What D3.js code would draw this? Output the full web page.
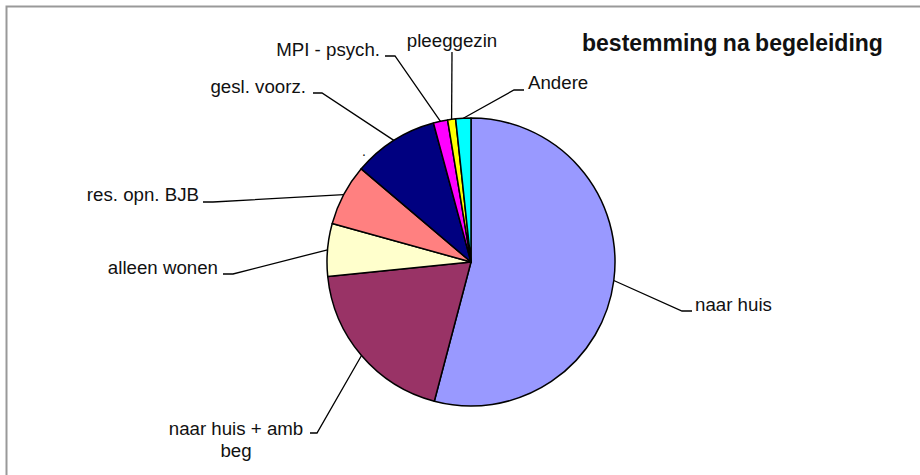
<!DOCTYPE html>
<html>
<head>
<meta charset="utf-8">
<script src="https://cdn.jsdelivr.net/npm/d3@7"></script>
<style>
  body { margin: 0; background: #fff; }
  svg text { font-family: "Liberation Sans", Arial, sans-serif; }
</style>
</head>
<body>
<div id="chart_area"></div>
<script>
// data (share of cases, %)
var categories = ["naar huis", "naar huis + amb beg", "alleen wonen", "res. opn. BJB",
                  "gesl. voorz.", "MPI - psych.", "pleeggezin", "Andere"];
var values = [54.1, 19.3, 5.9, 6.9, 9.6, 1.6, 0.9, 1.7];
var colors = ["#9999FF", "#993366", "#FFFFCC", "#FF8080", "#000080", "#FF00FF", "#FFFF00", "#00FFFF"];
var title = "bestemming na begeleiding";

// label layout: elbow point of leader, end of short horizontal, text anchor
var labelPos = [
    { ex: 682, ey: 311, hx: 692, tx: 695, ty: 311, anchor: "start" },
    { ex: 317, ey: 433, hx: 310, tx: 236, ty: 435, anchor: "middle", lines: ["naar huis + amb", "beg"] },
    { ex: 233, ey: 274, hx: 223, tx: 218, ty: 274, anchor: "end" },
    { ex: 213, ey: 202, hx: 203, tx: 199, ty: 201, anchor: "end" },
    { ex: 322, ey: 93, hx: 313, tx: 306, ty: 93, anchor: "end" },
    { ex: 395, ey: 56, hx: 385, tx: 380, ty: 56, anchor: "end" },
    { ex: 452, ey: 52, hx: 452, tx: 452, ty: 47, anchor: "middle" },
    { ex: 514, ey: 90, hx: 524, tx: 528, ty: 89, anchor: "start" }
];

var width = 920, height = 475;
var cx = 471, cy = 262, radius = 144;

var svg = d3.select("#chart_area")
    .append("svg")
    .attr("width", width)
    .attr("height", height);

// chart area border (only top and left visible)
svg.append("rect")
    .attr("x", 6.5)
    .attr("y", 6.5)
    .attr("width", width + 20)
    .attr("height", height + 20)
    .attr("fill", "none")
    .attr("stroke", "#999")
    .attr("stroke-width", 2);

var pie = d3.pie().sort(null).value(function(d) { return d; });
var arcs = pie(values);
var arc = d3.arc().innerRadius(0).outerRadius(radius);

var g = svg.append("g").attr("transform", "translate(" + cx + "," + cy + ")");

g.selectAll("path.slice")
    .data(arcs)
    .enter()
    .append("path")
    .attr("class", "slice")
    .attr("d", arc)
    .attr("fill", function(d, i) { return colors[i]; })
    .attr("stroke", "black")
    .attr("stroke-width", 1.5)
    .attr("stroke-linejoin", "round");

// leader lines + labels
arcs.forEach(function(d, i) {
    var mid = (d.startAngle + d.endAngle) / 2;
    var sx = cx + radius * Math.sin(mid);
    var sy = cy - radius * Math.cos(mid);
    var p = labelPos[i];
    svg.append("polyline")
        .attr("points", [[sx, sy], [p.ex, p.ey], [p.hx, p.ey]].map(function(q) { return q.join(","); }).join(" "))
        .attr("fill", "none")
        .attr("stroke", "black")
        .attr("stroke-width", 1.3);

    var t = svg.append("text")
        .attr("x", p.tx)
        .attr("y", p.ty)
        .attr("text-anchor", p.anchor)
        .attr("font-size", 18.7)
        .attr("fill", "#111");
    var lines = p.lines || [categories[i]];
    lines.forEach(function(line, k) {
        t.append("tspan")
            .attr("x", p.tx)
            .attr("dy", k === 0 ? 0 : 21.5)
            .text(line);
    });
});

// stray dot label next to the navy slice
svg.append("text")
    .attr("x", 362)
    .attr("y", 156)
    .attr("font-size", 14)
    .attr("fill", "#111")
    .text(".");

svg.append("text")
    .attr("x", 582)
    .attr("y", 51)
    .attr("font-size", 23)
    .attr("font-weight", "bold")
    .attr("word-spacing", -1)
    .attr("fill", "#111")
    .text(title);
</script>
</body>
</html>
